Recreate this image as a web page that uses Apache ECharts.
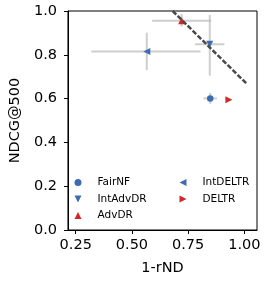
<!DOCTYPE html>
<html><head><meta charset="utf-8">
<script src="https://cdn.jsdelivr.net/npm/echarts@6/dist/echarts.min.js"></script>
<style>html,body{margin:0;padding:0;background:#fff}#c{width:266px;height:283px}</style>
</head><body><div id="c"></div>
<script>
var names = ['FairNF','IntAdvDR','AdvDR','IntDELTR','DELTR'];
var xVals = [0.848, 0.846, 0.721, 0.566, 0.931];
var yVals = [0.601, 0.848, 0.955, 0.815, 0.595];
var xErrLo = [0.818, 0.781, 0.590, 0.319, 0.931];
var xErrHi = [0.878, 0.911, 0.853, 0.805, 0.931];
var yErrLo = [0.576, 0.705, 0.929, 0.730, 0.595];
var yErrHi = [0.626, 0.982, 0.986, 0.901, 0.595];
var frontX = [0.681, 1.014];
var frontY = [1.0, 0.664];
var xTicks = [0.25, 0.50, 0.75, 1.00];
var yTicks = [0.0, 0.2, 0.4, 0.6, 0.8, 1.0];

var BLUE = '#3D6DB0', RED = '#D62728';
var colors = [BLUE, BLUE, RED, BLUE, RED];
var symbols = ['circle', 'path://M0,0 L10,0 L5,10 Z', 'path://M5,0 L10,10 L0,10 Z',
               'path://M10,0 L10,10 L0,5 Z', 'path://M0,0 L0,10 L10,5 Z'];
var sizes = [6.5, 7, 7, 7, 7];
var FONT = 'DejaVu Sans';

var errData = names.map(function(n,i){ return [xVals[i], yVals[i], xErrLo[i], xErrHi[i], yErrLo[i], yErrHi[i]]; });

var series = [{
  type: 'custom', z: 1, silent: true,
  renderItem: function(params, api){
    var a = api.coord([api.value(2), api.value(1)]);
    var b = api.coord([api.value(3), api.value(1)]);
    var d = api.coord([api.value(0), api.value(4)]);
    var e = api.coord([api.value(0), api.value(5)]);
    var st = {stroke: 'rgba(185,185,185,0.7)', lineWidth: 2};
    return {type: 'group', children: [
      {type: 'line', shape: {x1: a[0], y1: a[1], x2: b[0], y2: b[1]}, style: st},
      {type: 'line', shape: {x1: d[0], y1: d[1], x2: e[0], y2: e[1]}, style: st}
    ]};
  },
  data: errData
}];
names.forEach(function(n,i){
  series.push({
    type: 'scatter', name: n, z: 3,
    symbol: symbols[i], symbolSize: sizes[i],
    itemStyle: {color: colors[i], opacity: 1},
    data: [[xVals[i], yVals[i]]]
  });
});
series.push({
  type: 'line', z: 5, silent: true, symbol: 'none',
  lineStyle: {color: '#4a4a4a', width: 2.5, type: [5, 2]},
  data: frontX.map(function(x,i){ return [x, frontY[i]]; })
});

var legendCommon = {
  orient: 'vertical', padding: 0, itemWidth: 7, itemHeight: 7, itemGap: 4.5,
  textStyle: {fontFamily: FONT, fontSize: 10.5, color: '#000', lineHeight: 12, padding: [0,0,0,11]}
};
var chart = echarts.init(document.getElementById('c'), null, {renderer: 'canvas'});
chart.setOption({
  animation: false,
  grid: {left: 62, top: 11, width: 195, height: 219, show: true, borderColor: '#000', borderWidth: 1, backgroundColor: 'transparent'},
  xAxis: {
    type: 'value', min: 0.2155, max: 1.056,
    name: '1-rND', nameLocation: 'middle', nameGap: 31,
    nameTextStyle: {fontFamily: FONT, fontSize: 14.5, color: '#000'},
    axisLine: {show: true, onZero: false, lineStyle: {color: '#000', width: 1}},
    axisTick: {show: true, length: 4, lineStyle: {color: '#000'}, customValues: xTicks},
    axisLabel: {fontFamily: FONT, fontSize: 14.5, color: '#000', margin: 8, customValues: xTicks,
      formatter: function(v){ return v.toFixed(2); }},
    splitLine: {show: false}
  },
  yAxis: {
    type: 'value', min: 0, max: 1, interval: 0.2,
    name: 'NDCG@500', nameLocation: 'middle', nameGap: 43,
    nameTextStyle: {fontFamily: FONT, fontSize: 14.5, color: '#000'},
    axisLine: {show: true, onZero: false, lineStyle: {color: '#000', width: 1}},
    axisTick: {show: true, length: 4, lineStyle: {color: '#000'}},
    axisLabel: {fontFamily: FONT, fontSize: 14.5, color: '#000', margin: 11,
      formatter: function(v){ return v.toFixed(1); }},
    splitLine: {show: false}
  },
  legend: [
    Object.assign({left: 74.5, top: 176.5, data: ['FairNF','IntAdvDR','AdvDR']}, legendCommon),
    Object.assign({left: 179.5, top: 176.5, data: ['IntDELTR','DELTR']}, legendCommon)
  ],
  series: series
});
</script></body></html>
